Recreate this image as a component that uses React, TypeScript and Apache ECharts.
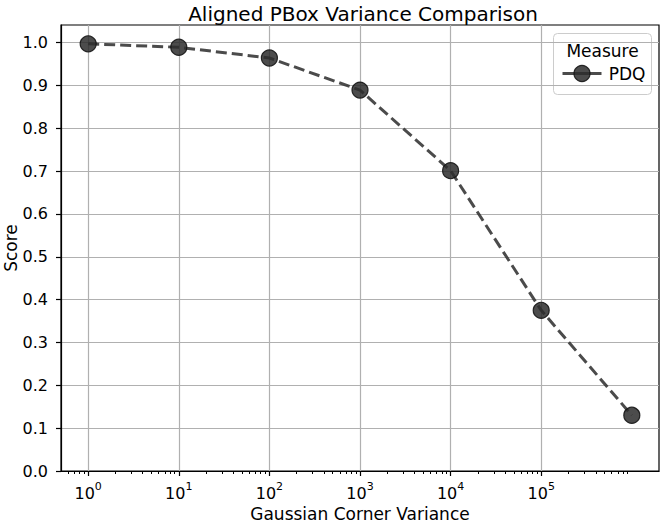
import React, { useEffect, useRef } from "react";
import * as echarts from "echarts";

const xValues = [1, 10, 100, 1000, 10000, 100000, 1000000];
const scores = [0.997, 0.989, 0.964, 0.889, 0.701, 0.375, 0.13];
const majorTicks = [1, 10, 100, 1000, 10000, 100000];
const yTicks = [0, 0.1, 0.2, 0.3, 0.4, 0.5, 0.6, 0.7, 0.8, 0.9, 1.0];
const seriesName = "PDQ";
const legendTitle = "Measure";

function minorTickValues(): number[] {
  const out: number[] = [];
  for (let e = -1; e <= 6; e++) {
    for (let k = 2; k <= 9; k++) {
      const v = k * Math.pow(10, e);
      if (v > Math.pow(10, -0.3) && v < Math.pow(10, 6.3)) out.push(v);
    }
  }
  return out;
}

export default function App() {
  const ref = useRef<HTMLDivElement>(null);
  useEffect(() => {
    if (!ref.current) return;
    const chart = echarts.init(ref.current, null, { renderer: "svg" });
    const font = "DejaVu Sans";
    const xmin = Math.pow(10, -0.3);
    const xmax = Math.pow(10, 6.3);
    const markerColor = "rgba(45,45,45,0.85)";
    chart.setOption({
      animation: false,
      textStyle: { fontFamily: font },
      title: {
        text: "Aligned PBox Variance Comparison",
        left: 358,
        textAlign: "center",
        top: -1,
        textStyle: { fontFamily: font, fontSize: 20, fontWeight: "normal", color: "#000" },
      },
      grid: {
        left: 61,
        top: 25,
        right: 6,
        bottom: 53,
        containLabel: false,
        outerBoundsMode: "none",
        show: true,
        borderColor: "#000",
        borderWidth: 1.2,
        backgroundColor: "transparent",
      },
      xAxis: [
        {
          type: "log",
          logBase: 10,
          min: xmin,
          max: xmax,
          name: "Gaussian Corner Variance",
          nameLocation: "middle",
          nameGap: 34,
          nameMoveOverlap: false,
          nameTextStyle: { fontFamily: font, fontSize: 17, color: "#000" },
          axisLine: { show: true, lineStyle: { color: "#000", width: 1.2 } },
          axisTick: {
            show: true,
            length: 5,
            customValues: majorTicks,
            lineStyle: { color: "#000", width: 1.2 },
          },
          axisLabel: {
            customValues: majorTicks,
            margin: 10,
            formatter: (v: number) => {
              const e = Math.round(Math.log10(v));
              return "{b|10}{s|" + e + "}";
            },
            rich: {
              b: { fontFamily: font, fontSize: 16, color: "#000", verticalAlign: "bottom" },
              s: { fontFamily: font, fontSize: 11, color: "#000", verticalAlign: "top", padding: [0, 0, 9, 0] },
            },
          },
          splitLine: {
            show: true,
            lineStyle: { color: "#b0b0b0", width: 1.2 },
          },
          minorTick: { show: false },
          minorSplitLine: { show: false },
        },
        {
          type: "log",
          logBase: 10,
          min: xmin,
          max: xmax,
          position: "bottom",
          axisLine: { show: false },
          axisTick: {
            show: true,
            length: 3,
            customValues: minorTickValues(),
            lineStyle: { color: "#000", width: 1 },
          },
          axisLabel: { show: false },
          splitLine: { show: false },
        },
      ],
      yAxis: {
        type: "value",
        min: 0,
        max: 1.041,
        interval: 0.1,
        name: "Score",
        nameLocation: "middle",
        nameGap: 42,
        nameMoveOverlap: false,
        nameTextStyle: { fontFamily: font, fontSize: 17, color: "#000" },
        axisLine: { show: true, lineStyle: { color: "#000", width: 1.2 } },
        axisTick: { show: true, length: 5, customValues: yTicks, lineStyle: { color: "#000", width: 1.2 } },
        axisLabel: {
          customValues: yTicks,
          fontFamily: font,
          fontSize: 16,
          color: "#000",
          margin: 13,
          formatter: (v: number) => v.toFixed(1),
        },
        splitLine: { show: true, lineStyle: { color: "#b0b0b0", width: 1.2 } },
      },
      series: [
        {
          name: seriesName,
          type: "line",
          xAxisIndex: 0,
          data: xValues.map((x, i) => [x, scores[i]]),
          symbol: "circle",
          symbolSize: 16,
          itemStyle: { color: markerColor, borderColor: "rgba(20,20,20,0.9)", borderWidth: 1.2 },
          lineStyle: { color: "rgba(50,50,50,0.88)", width: 3, type: [11, 5] },
          z: 3,
        },
      ],
      graphic: [
        {
          type: "group",
          left: 553,
          top: 33,
          children: [
            {
              type: "rect",
              shape: { x: 0, y: 0, width: 98, height: 61, r: 4 },
              style: { fill: "rgba(255,255,255,0.85)", stroke: "#cccccc", lineWidth: 1 },
            },
            {
              type: "text",
              style: {
                x: 49,
                y: 17,
                text: legendTitle,
                fontFamily: font,
                fontSize: 17,
                fill: "#000",
                align: "center",
                verticalAlign: "middle",
              },
            },
            {
              type: "line",
              shape: { x1: 9, y1: 40, x2: 48, y2: 40 },
              style: { stroke: "rgba(50,50,50,0.88)", lineWidth: 3 },
            },
            {
              type: "circle",
              shape: { cx: 28.5, cy: 40, r: 8 },
              style: { fill: markerColor, stroke: "rgba(20,20,20,0.9)", lineWidth: 1.2 },
            },
            {
              type: "text",
              style: {
                x: 92,
                y: 40,
                text: seriesName,
                fontFamily: font,
                fontSize: 17,
                fill: "#000",
                align: "right",
                verticalAlign: "middle",
              },
            },
          ],
        },
      ],
    });
    return () => chart.dispose();
  }, []);
  return <div ref={ref} style={{ width: 665, height: 524, position: "absolute", left: 0, top: 0 }} />;
}
